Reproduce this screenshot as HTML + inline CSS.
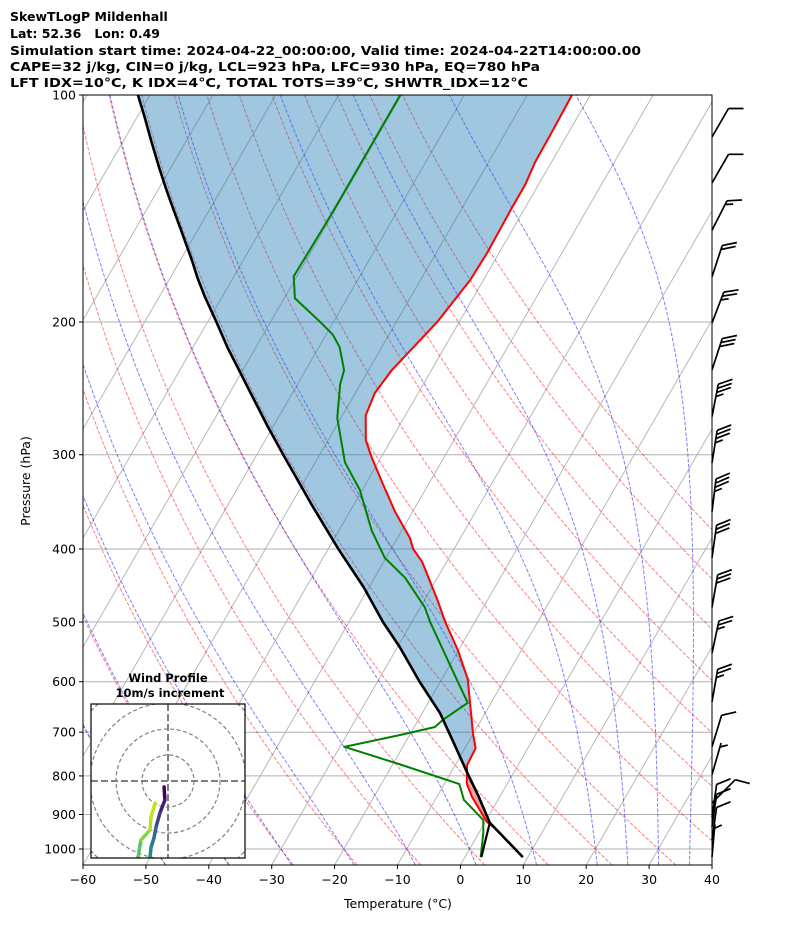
<!DOCTYPE html>
<html><head><meta charset="utf-8"><style>
html,body{margin:0;padding:0;background:#fff;}
svg{display:block;font-family:"DejaVu Sans","Liberation Sans",sans-serif;}
</style></head><body>
<svg id="chart" width="794" height="937" viewBox="0 0 794 937" xmlns="http://www.w3.org/2000/svg">
<defs>
<clipPath id="plotclip"><rect x="83" y="95" width="629" height="770"/></clipPath>
<clipPath id="hodoclip"><rect x="91" y="704" width="154" height="154"/></clipPath>
</defs>
<g font-weight="bold" font-size="12.5" fill="#000">
<text x="10" y="21">SkewTLogP Mildenhall</text>
<text x="10" y="38" xml:space="preserve">Lat: 52.36   Lon: 0.49</text>
<text x="10" y="55" textLength="631" lengthAdjust="spacingAndGlyphs">Simulation start time: 2024-04-22_00:00:00, Valid time: 2024-04-22T14:00:00.00</text>
<text x="10" y="71" textLength="530" lengthAdjust="spacingAndGlyphs">CAPE=32 j/kg, CIN=0 j/kg, LCL=923 hPa, LFC=930 hPa, EQ=780 hPa</text>
<text x="10" y="87" textLength="518" lengthAdjust="spacingAndGlyphs">LFT IDX=10°C, K IDX=4°C, TOTAL TOTS=39°C, SHWTR_IDX=12°C</text>
</g>
<g id="plot" clip-path="url(#plotclip)"></g>
<g id="axes"></g>
<g id="barbs"></g>
<g id="hodo"></g>
</svg>
<script>
// ---- data ----
const tempP = [1025,943,921,853,818,774,735,702,595,545,500,468,416,400,387,357,326,303,287,266,248.5,231.6,216.6,200,176,162,141,131.6,122.7,111.3,100];
const tempT = [9.2,2.6,0.3,-4.4,-6.5,-8.1,-8.3,-10.1,-15.9,-20.1,-24.7,-27.9,-33.9,-36.5,-38,-42.8,-47.6,-51.4,-54,-56.3,-56.9,-56.3,-55,-53.5,-52.1,-51.9,-52.1,-52.1,-52.6,-52.7,-52.9];
const dewP = [1025,952,915,861,820,772,732,706,689,674,640,597,500,478,437,411,378,334,307,268,242,231.6,216,208,200,186,174,144,100];
const dewT = [2.5,0.7,-0.5,-5.4,-7.6,-18.9,-29.3,-21.5,-16.7,-16.1,-13.7,-17.5,-27.1,-29.3,-35.1,-40.2,-44.8,-50.4,-55.3,-60.6,-63.2,-63.9,-66.7,-68.9,-72.1,-78.3,-80.5,-80.2,-80.2];
const parcelP = [1025,923,850,786,720,660,600,540,500,450,400,350,300,275,250,230,216.6,200,185,175,165.5,150,140,132.4,125,115,107,100];
const parcelT = [9.2,0.8,-3.5,-7.8,-12.5,-17.2,-23.3,-29.6,-34.6,-40.8,-48.4,-56.6,-65.8,-70.9,-76.3,-81,-84.4,-88.6,-92.8,-95.6,-98.2,-103,-106.4,-109.1,-111.8,-115.6,-118.8,-121.9];
const lclLineP = [1025,923];
const lclLineT = [2.6,0.8];
const xTicks = [-60,-50,-40,-30,-20,-10,0,10,20,30,40];
const yTicks = [100,200,300,400,500,600,700,800,900,1000];
const dryT0 = [-50,-40,-30,-20,-10,0,10,20,30,40,50,60,70,80,90,100];
const moistT0 = [-50,-40,-30,-20,-10,0,10,20,25,30,35,40,45];
const barbP = [113.7,130.8,151.1,174.3,200.6,231.6,267,307.6,357,411,478,550,638,732,797,869,907,935,973,1025];
const barbSpd = [10,10,15,20,25,30,35,35,35,30,30,25,25,10,5,10,10,10,10,5];
const barbDir = [30,30,27,18,21,18,11,9,7,8,10,12,10,17,16,45,8,8,8,5];
const hodoU = [-1.5,-1.2,-3.1,-4.6,-5.4,-6.5,-6.9,-9,-11.5,-10.4,-6.9,-6.5,-5];
const hodoV = [-2.3,-7.3,-12.3,-17.7,-21.9,-25.4,-29.2,-33,-29.2,-22.7,-18.8,-13.8,-8.5];

// ---- axes functions ----
const L=83,R=712,TOP=95,BOT=865;
function yP(p){return TOP+754*Math.log10(p/100);}
function xT(t,p){return L+(t+60)*6.29+0.577*(BOT-yP(p));}
const NS='http://www.w3.org/2000/svg';
function mk(tag,attrs,parent){const e=document.createElementNS(NS,tag);for(const k in attrs)e.setAttribute(k,attrs[k]);parent.appendChild(e);return e;}
const plot=document.getElementById('plot'), axes=document.getElementById('axes');
function pathFrom(ps,ts){return ps.map((p,i)=>(i?'L':'M')+xT(ts[i],p).toFixed(2)+','+yP(p).toFixed(2)).join(' ');}

// isotherms
for(let t=-170;t<=40;t+=10){
  const x0=L+(t+60)*6.29;
  const ln=mk('line',{x1:x0,y1:BOT,x2:x0+0.577*770,y2:TOP,stroke:'#b8b8b8','stroke-width':1},plot);
  
  
}
// horizontal grid
yTicks.forEach(p=>{
  const ln=mk('line',{x1:L,x2:R,y1:yP(p),y2:yP(p),stroke:'#b0b0b0','stroke-width':1},plot);
  
  
});
// dry adiabats
const presGrid=[];for(let p=1050;p>=100;p-=10)presGrid.push(p);
dryT0.forEach(t0=>{
  const th=t0+273.15;
  const ts=presGrid.map(p=>th*Math.pow(p/1000,0.2857)-273.15);
  const pa=mk('path',{d:pathFrom(presGrid,ts),fill:'none',stroke:'#ff0000','stroke-opacity':0.5,'stroke-width':1,'stroke-dasharray':'3.7,1.6'},plot);
  
  
});
// moist adiabats
function dTdp(p,T){const Tc=T-273.15;const es=6.112*Math.exp(17.67*Tc/(Tc+243.5));const rs=0.622*es/(p-es);
  return (287.04*T+2.501e6*rs)/(1005.7+2.501e6*2.501e6*rs*0.622/(287.04*T*T))/p;}
function integ(T,p0,p1,dp){const ps=[p0],ts=[T];let p=p0;const n=Math.round(Math.abs(p1-p0)/Math.abs(dp));
  for(let i=0;i<n;i++){const k1=dTdp(p,T),k2=dTdp(p+dp/2,T+dp/2*k1),k3=dTdp(p+dp/2,T+dp/2*k2),k4=dTdp(p+dp,T+dp*k3);
    T+=dp/6*(k1+2*k2+2*k3+k4);p+=dp;ps.push(p);ts.push(T);}return [ps,ts];}
moistT0.forEach(t0=>{
  const up=integ(t0+273.15,1000,100,-5), dn=integ(t0+273.15,1000,1050,5);
  const ps=dn[0].slice().reverse().concat(up[0].slice(1));
  const ts=dn[1].slice().reverse().concat(up[1].slice(1)).map(v=>v-273.15);
  const pa=mk('path',{d:pathFrom(ps,ts),fill:'none',stroke:'#0000ff','stroke-opacity':0.5,'stroke-width':1,'stroke-dasharray':'3.7,1.6'},plot);
  
  
});
// CAPE/CIN shading
function interp(ps,ts,p){const lp=Math.log(p);
  for(let i=0;i<ps.length-1;i++){const a=Math.log(ps[i]),b=Math.log(ps[i+1]);
    if((lp<=a&&lp>=b)){const f=(lp-a)/(b-a);return ts[i]+f*(ts[i+1]-ts[i]);}}
  return lp>Math.log(ps[0])?ts[0]:ts[ts.length-1];}
(function(){
  const pTop=100,pBot=Math.min(tempP[0],parcelP[0]);const N=500;const s=[];
  for(let i=0;i<=N;i++){const p=pBot*Math.pow(pTop/pBot,i/N);s.push([p,interp(parcelP,parcelT,p),interp(tempP,tempT,p)]);}
  let run=[];let sign=null;
  function flush(){if(run.length<2){run=[];return;}
    const d=run.map(r=>xT(r[1],r[0]).toFixed(2)+','+yP(r[0]).toFixed(2)).concat(run.slice().reverse().map(r=>xT(r[2],r[0]).toFixed(2)+','+yP(r[0]).toFixed(2)));
    const pg=mk('polygon',{points:d.join(' '),fill:sign>0?'#d62728':'#1f77b4','fill-opacity':0.42,stroke:'none'},plot);
    
    
    run=[run[run.length-1]];}
  s.forEach(r=>{const sg=r[1]-r[2]>0?1:-1;if(sign===null)sign=sg;if(sg!==sign){run.push(r);flush();sign=sg;}run.push(r);});
  flush();
})();
// profiles
let e;
e=mk('path',{d:pathFrom(tempP,tempT),fill:'none',stroke:'#ff0000','stroke-width':2,'stroke-linejoin':'round'},plot);


e=mk('path',{d:pathFrom(dewP,dewT),fill:'none',stroke:'#008000','stroke-width':2,'stroke-linejoin':'round'},plot);


e=mk('path',{d:pathFrom(parcelP,parcelT),fill:'none',stroke:'#000','stroke-width':2.6,'stroke-linejoin':'round'},plot);


e=mk('path',{d:pathFrom(lclLineP,lclLineT),fill:'none',stroke:'#000','stroke-width':2.2},plot);



// frame & ticks
e=mk('rect',{x:L,y:TOP,width:R-L,height:BOT-TOP,fill:'none',stroke:'#000','stroke-width':1},axes);


xTicks.forEach(t=>{const x=L+(t+60)*6.29;
  e=mk('line',{x1:x,x2:x,y1:BOT,y2:BOT+4,stroke:'#000','stroke-width':1},axes);
  
  
  e=mk('text',{x:x,y:BOT+19,'text-anchor':'middle','font-size':12.5},axes);
  e.textContent=(t<0?'\u2212':'')+Math.abs(t);
  
  
});
yTicks.forEach(p=>{const y=yP(p);
  e=mk('line',{x1:L-4,x2:L,y1:y,y2:y,stroke:'#000','stroke-width':1},axes);
  
  
  e=mk('text',{x:L-7,y:y+4.5,'text-anchor':'end','font-size':12.5},axes);
  e.textContent=String(p);
  
  
});
e=mk('text',{x:398,y:908,'text-anchor':'middle','font-size':12.5},axes);
e.textContent='Temperature (°C)';


e=mk('text',{x:0,y:0,'text-anchor':'middle','font-size':12.5,transform:'translate(30,481) rotate(-90)'},axes);
e.textContent='Pressure (hPa)';



// wind barbs
const bg=document.getElementById('barbs');
barbP.forEach((p,i)=>{
  const bx=R,by=yP(p),d=barbDir[i]*Math.PI/180,Ls=33;
  const sx=Math.sin(d),sy=-Math.cos(d);
  const tx=bx+sx*Ls,ty=by+sy*Ls;
  const px=Math.cos(d),py=Math.sin(d),a=Math.PI/6;
  const vx=px*Math.cos(a)+sx*Math.sin(a),vy=py*Math.cos(a)+sy*Math.sin(a);
  let dd='M'+bx.toFixed(1)+','+by.toFixed(1)+'L'+tx.toFixed(1)+','+ty.toFixed(1);
  let spd=barbSpd[i];let full=Math.floor(spd/10),half=(spd%10)>=5?1:0;let k=0;
  if(full===0&&half)k=1;
  for(let j=0;j<full;j++,k++){const ox=tx-sx*k*4.2,oy=ty-sy*k*4.2;dd+='M'+ox.toFixed(1)+','+oy.toFixed(1)+'l'+(vx*15).toFixed(1)+','+(vy*15).toFixed(1);}
  if(half){const ox=tx-sx*k*4.2,oy=ty-sy*k*4.2;dd+='M'+ox.toFixed(1)+','+oy.toFixed(1)+'l'+(vx*8).toFixed(1)+','+(vy*8).toFixed(1);}
  const pa=mk('path',{d:dd,fill:'none',stroke:'#000','stroke-width':1.7},bg);
  
  
});

// hodograph
const hg=document.getElementById('hodo');
const HX=168,HY=781,HS=2.6;
e=mk('rect',{x:91,y:704,width:154,height:154,fill:'#fff',stroke:'none'},hg);


const hc=mk('g',{'clip-path':'url(#hodoclip)'},hg);
[10,20,30,40].forEach(r=>{
  e=mk('circle',{cx:HX,cy:HY,r:r*HS,fill:'none',stroke:'#808080','stroke-width':1.2,'stroke-dasharray':'4,2.5'},hc);
  
  
});
e=mk('line',{x1:HX,x2:HX,y1:704,y2:858,stroke:'#808080','stroke-width':2,'stroke-dasharray':'7,3'},hc);


e=mk('line',{x1:91,x2:245,y1:HY,y2:HY,stroke:'#808080','stroke-width':2,'stroke-dasharray':'7,3'},hc);


const vir=[[68,1,84],[65,44,122],[53,95,141],[41,120,142],[33,145,140],[53,183,121],[94,201,98],[170,220,50],[200,224,32]];
function vcol(f){const x=f*(vir.length-1);const i=Math.min(Math.floor(x),vir.length-2);const g=x-i;
  const c=vir[i].map((v,j)=>Math.round(v+g*(vir[i+1][j]-v)));return 'rgb('+c.join(',')+')';}
for(let i=0;i<hodoU.length-1;i++){
  e=mk('line',{x1:HX+hodoU[i]*HS,y1:HY-hodoV[i]*HS,x2:HX+hodoU[i+1]*HS,y2:HY-hodoV[i+1]*HS,stroke:vcol(i/(hodoU.length-2)),'stroke-width':3.5,'stroke-linecap':'round'},hc);
  
  
}
e=mk('rect',{x:91,y:704,width:154,height:154,fill:'none',stroke:'#000','stroke-width':1.2},hg);


e=mk('text',{x:168,y:682,'text-anchor':'middle','font-size':11.5,'font-weight':'bold'},hg);
e.textContent='Wind Profile';


e=mk('text',{x:170,y:697,'text-anchor':'middle','font-size':11.5,'font-weight':'bold'},hg);
e.textContent='10m/s increment';


</script>
</body></html>
